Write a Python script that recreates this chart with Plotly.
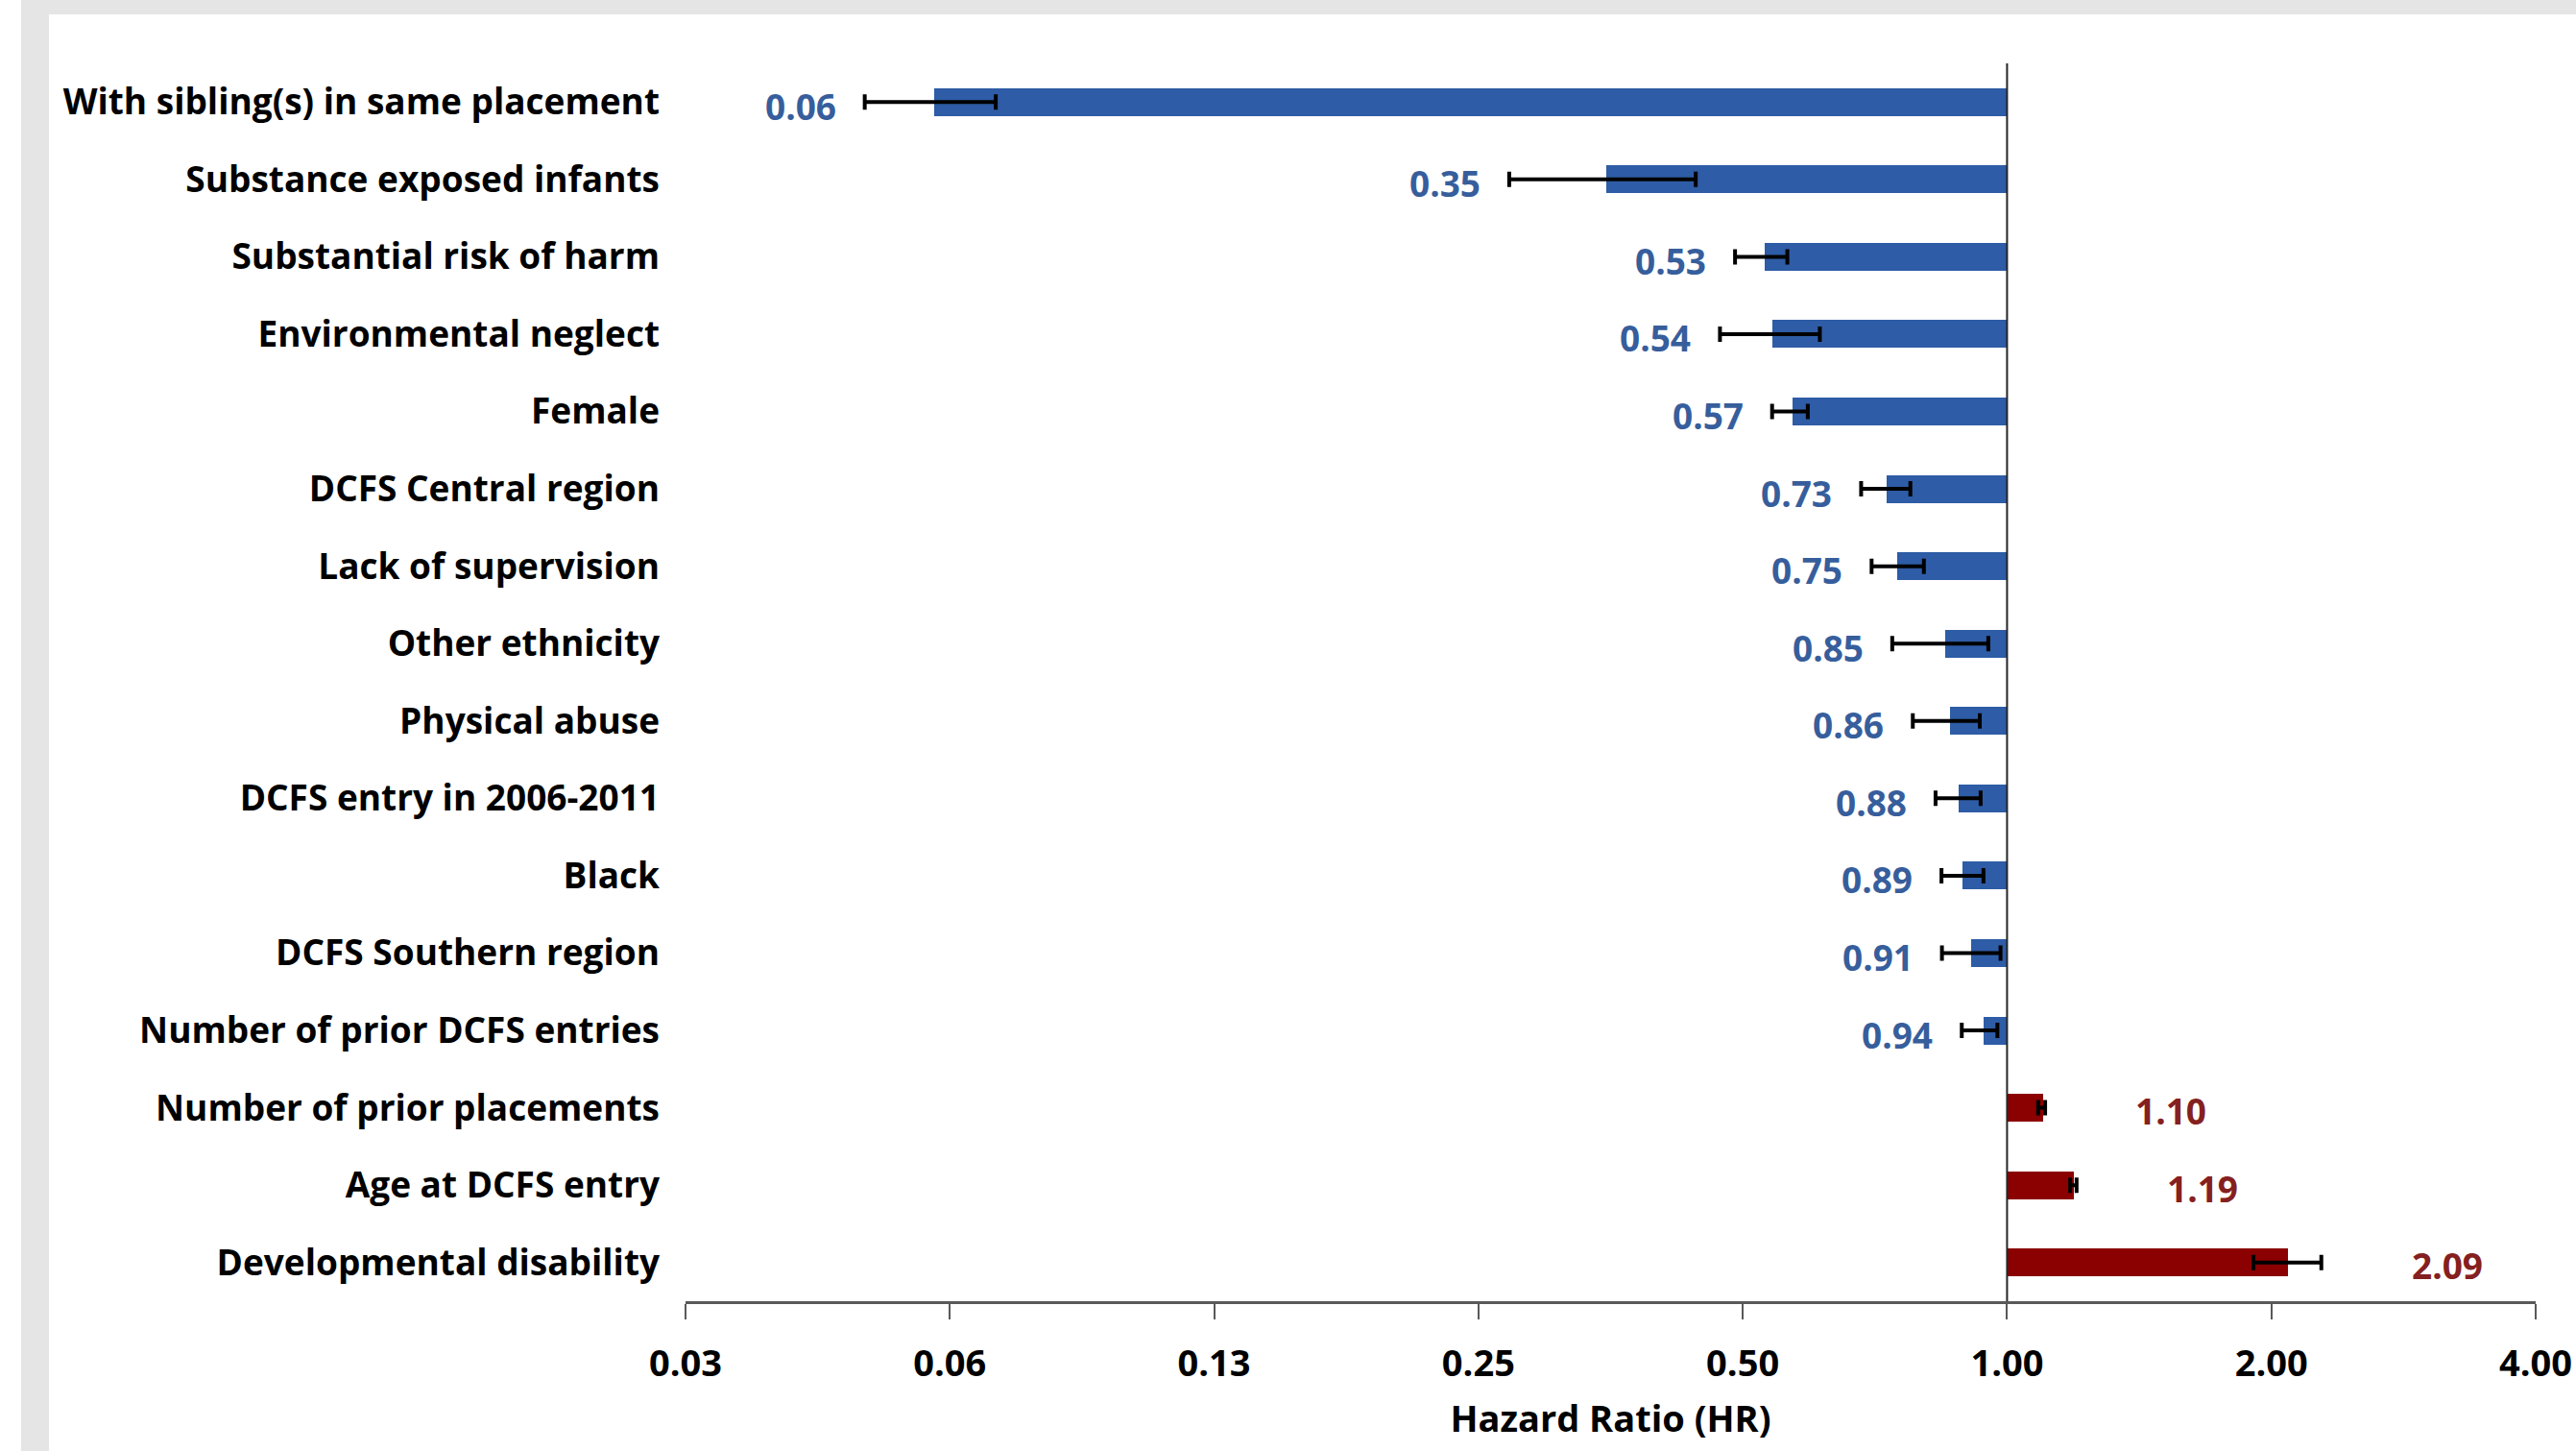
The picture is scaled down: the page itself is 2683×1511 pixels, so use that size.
import numpy as np
import plotly.graph_objects as go

# ---------------- data ----------------
categories = [
    "With sibling(s) in same placement",
    "Substance exposed infants",
    "Substantial risk of harm",
    "Environmental neglect",
    "Female",
    "DCFS Central region",
    "Lack of supervision",
    "Other ethnicity",
    "Physical abuse",
    "DCFS entry in 2006-2011",
    "Black",
    "DCFS Southern region",
    "Number of prior DCFS entries",
    "Number of prior placements",
    "Age at DCFS entry",
    "Developmental disability",
]
hazard_ratio = [0.06, 0.35, 0.53, 0.54, 0.57, 0.73, 0.75, 0.85, 0.86, 0.88,
                0.89, 0.91, 0.94, 1.10, 1.19, 2.09]
ci_low = [0.050, 0.271, 0.490, 0.471, 0.540, 0.682, 0.701, 0.740, 0.781, 0.829,
          0.842, 0.843, 0.888, 1.085, 1.180, 1.908]
ci_high = [0.0705, 0.442, 0.562, 0.612, 0.593, 0.776, 0.804, 0.952, 0.931, 0.933,
           0.940, 0.983, 0.975, 1.105, 1.200, 2.280]
tick_values = [1 / 32, 1 / 16, 1 / 8, 1 / 4, 1 / 2, 1, 2, 4]
tick_labels = ["0.03", "0.06", "0.13", "0.25", "0.50", "1.00", "2.00", "4.00"]
x_title = "Hazard Ratio (HR)"

# ---------------- styles ----------------
BLUE = "#2E5CA6"
RED = "#8B0000"
BLUE_TXT = "#375E9C"
RED_TXT = "#852020"
FONT = "Open Sans"
W, H = 2683, 1511
ML, MR, MT, MB = 714, 42, 66, 156

hr = np.array(hazard_ratio)
lo = np.array(ci_low)
hi = np.array(ci_high)
bar_colors = [BLUE if v < 1 else RED for v in hr]

fig = go.Figure()
fig.add_trace(go.Bar(
    y=categories, x=hr - 1.0, base=1.0, orientation="h",
    marker=dict(color=bar_colors, line=dict(width=0)),
    width=0.36, hoverinfo="skip", showlegend=False,
))
fig.add_trace(go.Scatter(
    y=categories, x=hr, mode="markers",
    marker=dict(size=1, color="rgba(0,0,0,0)"),
    error_x=dict(type="data", symmetric=False, array=hi - hr, arrayminus=hr - lo,
                 color="black", thickness=4, width=8),
    hoverinfo="skip", showlegend=False,
))

annotations = []
for cat, v, l, h in zip(categories, hr, lo, hi):
    if v < 1:
        annotations.append(dict(
            x=np.log10(l), y=cat, xref="x", yref="y", text=f"{v:.2f}",
            showarrow=False, xanchor="right", yanchor="middle", xshift=-28, yshift=-4,
            font=dict(family=FONT, size=37, color=BLUE_TXT, weight="bold"),
        ))
    else:
        annotations.append(dict(
            x=np.log10(h), y=cat, xref="x", yref="y", text=f"{v:.2f}",
            showarrow=False, xanchor="left", yanchor="middle", xshift=92, yshift=-3,
            font=dict(family=FONT, size=37, color=RED_TXT, weight="bold"),
        ))

pw = W - ML - MR
ph = H - MT - MB


def px_x(p):
    return (p - ML) / pw


def px_y(p):
    return (H - MB - p) / ph


lmin, lmax = np.log2(tick_values[0]), np.log2(tick_values[-1])
one_frac = (np.log2(1.0) - lmin) / (lmax - lmin)

shapes = [
    # outer grey frame (left and top strips)
    dict(type="rect", xref="paper", yref="paper", x0=px_x(22), x1=px_x(51),
         y0=px_y(H), y1=px_y(0), fillcolor="#E5E5E5", line=dict(width=0), layer="below"),
    dict(type="rect", xref="paper", yref="paper", x0=px_x(22), x1=px_x(W),
         y0=px_y(15), y1=px_y(0), fillcolor="#E5E5E5", line=dict(width=0), layer="below"),
    # vertical axis at HR = 1
    dict(type="line", xref="paper", yref="paper", x0=one_frac, x1=one_frac,
         y0=0, y1=1, line=dict(color="#262626", width=2)),
]

fig.update_layout(
    width=W, height=H,
    margin=dict(l=ML, r=MR, t=MT, b=MB, pad=0, autoexpand=False),
    paper_bgcolor="white", plot_bgcolor="white",
    bargap=0, showlegend=False,
    annotations=annotations, shapes=shapes,
    xaxis=dict(
        type="log", range=[np.log10(tick_values[0]), np.log10(tick_values[-1])],
        automargin=False,
        tickvals=tick_values, ticktext=tick_labels,
        showgrid=False, zeroline=False,
        showline=True, linecolor="#595959", linewidth=2.5,
        ticks="outside", ticklen=16, tickwidth=2, tickcolor="#595959",
        ticklabelstandoff=14,
        tickfont=dict(family=FONT, size=38, color="black", weight="bold"),
        title=dict(text=x_title, standoff=22,
                   font=dict(family=FONT, size=38, color="black", weight="bold")),
    ),
    yaxis=dict(
        type="category", range=[len(categories) - 0.5, -0.5],
        automargin=False,
        showgrid=False, zeroline=False, showline=False, ticks="",
        ticklabelstandoff=26,
        tickfont=dict(family=FONT, size=37, color="black", weight="bold"),
    ),
)

fig.write_html("out.html")
